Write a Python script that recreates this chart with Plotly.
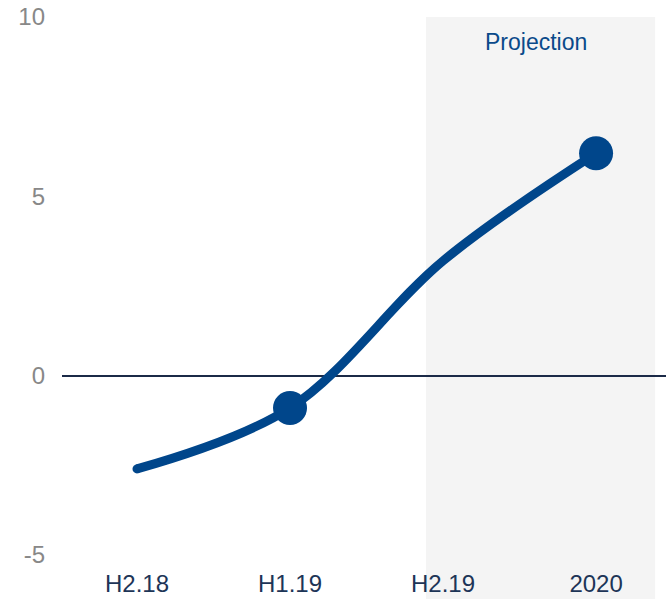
import plotly.graph_objects as go

# Period labels and values
categories = ["H2.18", "H1.19", "H2.19", "2020"]
values = [-2.6, -0.9, 3.2, 6.2]
marker_sizes = [9, 34, 0, 34]
y_ticks = [-5, 0, 5, 10]
y_tick_text = ["-5", "0", "5", "10"]

navy = "#00468b"
font_family = "Liberation Sans, Arial, sans-serif"

x_idx = list(range(len(categories)))

fig = go.Figure()
fig.add_trace(go.Scatter(
    x=x_idx,
    y=values,
    mode="lines+markers",
    line=dict(color=navy, width=9, shape="spline", smoothing=1.0),
    marker=dict(color=navy, size=marker_sizes, opacity=1, line=dict(width=0)),
    opacity=1,
    hoverinfo="skip",
    showlegend=False,
))

# Shaded projection period
fig.add_shape(
    type="rect", xref="x", yref="paper",
    x0=1.889, x1=3.386, y0=-0.082, y1=1.0,
    fillcolor="#f4f4f4", line=dict(width=0), layer="below",
)

fig.add_annotation(
    x=2.61, xref="x", y=0.954, yref="paper",
    text="Projection", showarrow=False,
    font=dict(family=font_family, size=23, color="#0a4a8a"),
    xanchor="center", yanchor="middle",
)

fig.update_layout(
    width=666, height=599,
    margin=dict(l=62, r=0, t=17, b=44),
    paper_bgcolor="white",
    plot_bgcolor="rgba(0,0,0,0)",
    font=dict(family=font_family),
    xaxis=dict(
        range=[-0.49, 3.457],
        tickmode="array",
        tickvals=x_idx,
        ticktext=categories,
        showgrid=False, zeroline=False, showline=False,
        ticks="", ticklabelstandoff=12,
        tickfont=dict(family=font_family, size=24, color="#1d3557"),
    ),
    yaxis=dict(
        range=[-5, 10],
        tickmode="array",
        tickvals=y_ticks,
        ticktext=y_tick_text,
        showgrid=False,
        zeroline=True, zerolinecolor="#1b2a47", zerolinewidth=2,
        showline=False, ticks="", ticklabelstandoff=16,
        tickfont=dict(family=font_family, size=24, color="#888888"),
    ),
)

fig.write_html("out.html")
